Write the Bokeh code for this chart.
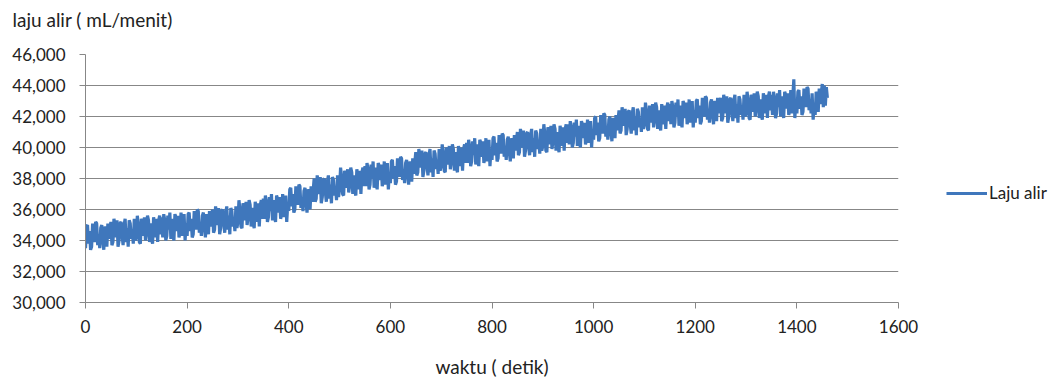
from bokeh.plotting import figure
from bokeh.models import Range1d, FixedTicker, NumeralTickFormatter, Legend, LegendItem, Title
from bokeh.embed import file_html
from bokeh.resources import INLINE

# waktu (detik), one reading every 2 s
waktu = list(range(0, 1461, 2))

# laju alir (mL/menit) (50 s per row)
laju_alir = [
    33500, 34900, 35000, 33800, 34600, 33400, 33600, 35100, 34500, 33900, 35200, 35100, 33700, 34400, 33500, 34800, 35000, 34000, 33400, 34900, 34700, 33600, 35100, 34100, 34800,
    35200, 33700, 33900, 35400, 34900, 34200, 35300, 33600, 34000, 35100, 35200, 34300, 33700, 35000, 35400, 33900, 34800, 33600, 35300, 35100, 34100, 34700, 33800, 35400, 34000,
    34200, 35600, 35000, 33900, 33800, 35400, 35200, 34300, 35500, 34000, 34500, 35600, 35300, 33900, 35100, 34100, 33800, 35500, 35000, 34200, 35400, 33900, 35300, 35600, 34400,
    35500, 34200, 35700, 35300, 34000, 34300, 35600, 34700, 35800, 34100, 35400, 34400, 34000, 35700, 35500, 34600, 35600, 34200, 34500, 35800, 34300, 35400, 35700, 34000, 35100,
    34300, 35700, 35800, 34600, 35400, 34200, 34400, 35900, 35300, 34700, 36000, 35900, 34500, 35200, 34300, 35600, 35800, 34800, 34200, 35700, 35500, 34400, 35900, 34900, 35600,
    36000, 34500, 34700, 36200, 35700, 35000, 36100, 34400, 34800, 35900, 36000, 35100, 34500, 35800, 36200, 34700, 35600, 34400, 36100, 35900, 34900, 35500, 34600, 36200, 34800,
    35200, 36600, 36000, 34900, 34800, 36400, 36200, 35300, 36500, 35000, 35500, 36600, 36300, 34900, 36100, 35100, 34800, 36500, 36000, 35200, 36400, 34900, 36300, 36600, 35400,
    36700, 35400, 36900, 36500, 35200, 35500, 36800, 35900, 37000, 35300, 36600, 35600, 35200, 36900, 36700, 35800, 36800, 35400, 35700, 37000, 35500, 36600, 36900, 35200, 36300,
    35900, 37300, 37400, 36200, 37000, 35800, 36000, 37500, 36900, 36300, 37600, 37500, 36100, 36800, 35900, 37200, 37400, 36400, 35800, 37300, 37100, 36000, 37500, 36500, 37200,
    38000, 36500, 36700, 38200, 37700, 37000, 38100, 36400, 36800, 37900, 38000, 37100, 36500, 37800, 38200, 36700, 37600, 36400, 38100, 37900, 36900, 37500, 36600, 38200, 36800,
    37300, 38700, 38100, 37000, 36900, 38500, 38300, 37400, 38600, 37100, 37600, 38700, 38400, 37000, 38200, 37200, 36900, 38600, 38100, 37300, 38500, 37000, 38400, 38700, 37500,
    38800, 37500, 39000, 38600, 37300, 37600, 38900, 38000, 39100, 37400, 38700, 37700, 37300, 39000, 38800, 37900, 38900, 37500, 37800, 39100, 37600, 38700, 39000, 37300, 38400,
    37700, 39100, 39200, 38000, 38800, 37600, 37800, 39300, 38700, 38100, 39400, 39300, 37900, 38600, 37700, 39000, 39200, 38200, 37600, 39100, 38900, 37800, 39300, 38300, 39000,
    39700, 38200, 38400, 39900, 39400, 38700, 39800, 38100, 38500, 39600, 39700, 38800, 38200, 39500, 39900, 38400, 39300, 38100, 39800, 39600, 38600, 39200, 38300, 39900, 38500,
    38800, 40200, 39600, 38500, 38400, 40000, 39800, 38900, 40100, 38600, 39100, 40200, 39900, 38500, 39700, 38700, 38400, 40100, 39600, 38800, 40000, 38500, 39900, 40200, 39000,
    40300, 39000, 40500, 40100, 38800, 39100, 40400, 39500, 40600, 38900, 40200, 39200, 38800, 40500, 40300, 39400, 40400, 39000, 39300, 40600, 39100, 40200, 40500, 38800, 39900,
    39200, 40600, 40700, 39500, 40300, 39100, 39300, 40800, 40200, 39600, 40900, 40800, 39400, 40100, 39200, 40500, 40700, 39700, 39100, 40600, 40400, 39300, 40800, 39800, 40500,
    41000, 39500, 39700, 41200, 40700, 40000, 41100, 39400, 39800, 40900, 41000, 40100, 39500, 40800, 41200, 39700, 40600, 39400, 41100, 40900, 39900, 40500, 39600, 41200, 39800,
    40100, 41500, 40900, 39800, 39700, 41300, 41100, 40200, 41400, 39900, 40400, 41500, 41200, 39800, 41000, 40000, 39700, 41400, 40900, 40100, 41300, 39800, 41200, 41500, 40300,
    41500, 40200, 41700, 41300, 40000, 40300, 41600, 40700, 41800, 40100, 41400, 40400, 40000, 41700, 41500, 40600, 41600, 40200, 40500, 41800, 40300, 41400, 41700, 40000, 41100,
    40500, 41900, 42000, 40800, 41600, 40400, 40600, 42100, 41500, 40900, 42200, 42100, 40700, 41400, 40500, 41800, 42000, 41000, 40400, 41900, 41700, 40600, 42100, 41100, 41800,
    42400, 40900, 41100, 42600, 42100, 41400, 42500, 40800, 41200, 42300, 42400, 41500, 40900, 42200, 42600, 41100, 42000, 40800, 42500, 42300, 41300, 41900, 41000, 42600, 41200,
    41500, 42900, 42300, 41200, 41100, 42700, 42500, 41600, 42800, 41300, 41800, 42900, 42600, 41200, 42400, 41400, 41100, 42800, 42300, 41500, 42700, 41200, 42600, 42900, 41700,
    42800, 41500, 43000, 42600, 41300, 41600, 42900, 42000, 43100, 41400, 42700, 41700, 41300, 43000, 42800, 41900, 42900, 41500, 41800, 43100, 41600, 42700, 43000, 41300, 42400,
    41600, 43000, 43100, 41900, 42700, 41500, 41700, 43200, 42600, 42000, 43300, 43200, 41800, 42500, 41600, 42900, 43100, 42100, 41500, 43000, 42800, 41700, 43200, 42200, 42900,
    43200, 41700, 41900, 43400, 42900, 42200, 43300, 41600, 42000, 43100, 43200, 42300, 41700, 43000, 43400, 41900, 42800, 41600, 43300, 43100, 42100, 42700, 41800, 43400, 42000,
    42200, 43600, 43000, 41900, 41800, 43400, 43200, 42300, 43500, 42000, 42500, 43600, 43300, 41900, 43100, 42100, 41800, 43500, 43000, 42200, 43400, 41900, 43300, 43600, 42400,
    43400, 42100, 43600, 43200, 41900, 42200, 43500, 42600, 43700, 42000, 43300, 42300, 41900, 43600, 43400, 42500, 43500, 42100, 42400, 43700, 42200, 43300, 44400, 41900, 43000,
    42200, 43600, 43700, 42500, 43300, 42100, 42300, 43800, 43200, 42600, 43900, 43800, 42400, 43100, 42200, 43500, 41800, 42700, 42100, 43600, 43400, 42300, 43800, 42800, 43500,
    44100, 42600, 44000, 42700, 43900, 43200,
]

y_ticks = list(range(30000, 46001, 2000))
x_ticks = list(range(0, 1601, 200))

n = min(len(waktu), len(laju_alir))
waktu = waktu[:n]
laju_alir = laju_alir[:n]

FONT = "Lato"
TXT = "#222222"
GRID = "#878787"
BLUE = "#3f77bc"

p = figure(frame_width=813, frame_height=248, x_range=Range1d(0, 1600), y_range=Range1d(30000, 46000),
           output_backend="svg", toolbar_location=None,
           min_border_left=85, min_border_right=150, min_border_top=10, min_border_bottom=78)
p.outline_line_color = None
p.background_fill_color = "white"
p.border_fill_color = "white"

r = p.line(waktu, laju_alir, line_width=3.2, line_color=BLUE)

p.xgrid.visible = False
p.ygrid.ticker = FixedTicker(ticks=y_ticks)
p.ygrid.grid_line_color = GRID
p.ygrid.grid_line_width = 1

p.yaxis.ticker = FixedTicker(ticks=y_ticks)
p.yaxis.formatter = NumeralTickFormatter(format="0,0")
p.xaxis.ticker = FixedTicker(ticks=x_ticks)
for ax in (p.xaxis, p.yaxis):
    ax.axis_line_color = GRID
    ax.major_tick_line_color = GRID
    ax.minor_tick_line_color = None
    ax.major_tick_in = 0
    ax.major_tick_out = 6
    ax.major_label_text_font = FONT
    ax.major_label_text_font_size = "17px"
    ax.major_label_text_color = TXT
p.yaxis.major_label_standoff = 14
p.xaxis.major_label_standoff = 11

p.xaxis.axis_label = "waktu ( detik)"
p.xaxis.axis_label_text_font = FONT
p.xaxis.axis_label_text_font_size = "19px"
p.xaxis.axis_label_text_font_style = "normal"
p.xaxis.axis_label_text_color = TXT
p.xaxis.axis_label_standoff = 19

p.title.text = "laju alir ( mL/menit)"
p.title.align = "left"
p.title.offset = -73
p.title.standoff = 10
p.title.text_font = FONT
p.title.text_font_size = "19px"
p.title.text_font_style = "normal"
p.title.text_color = TXT

# spacer between the title and the frame
p.add_layout(Title(text=" ", text_font_size="16px", standoff=0), "above")

legend = Legend(items=[LegendItem(label="Laju alir", renderers=[r])], location="center_left",
                title=" ", title_text_font_size="12px", title_standoff=15,
                glyph_width=41, glyph_height=20, label_standoff=2, padding=0, margin=48,
                border_line_color=None, background_fill_alpha=0,
                label_text_font=FONT, label_text_font_size="17px", label_text_color=TXT)
p.add_layout(legend, "right")

open("out.html", "w").write(file_html(p, INLINE))
